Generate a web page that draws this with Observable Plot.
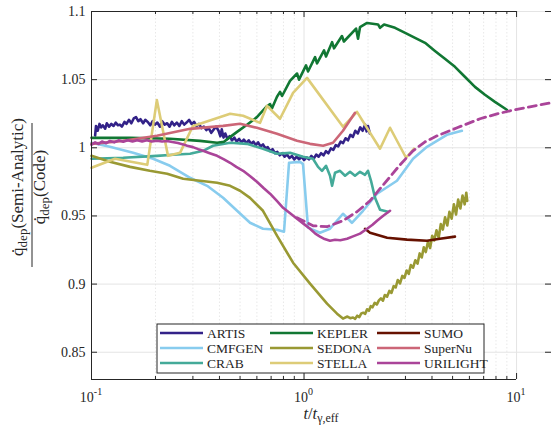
<!DOCTYPE html>
<html><head><meta charset="utf-8">
<script src="https://cdn.jsdelivr.net/npm/d3@7"></script>
<script src="https://cdn.jsdelivr.net/npm/@observablehq/plot@0.6"></script>
<style>body{margin:0;background:#fff;} svg{display:block;}</style>
</head><body><div id="chart"></div>
<script>
const models = ["ARTIS","CMFGEN","CRAB","KEPLER","SEDONA","STELLA","SUMO","SuperNu","URILIGHT"];
const colors = ["#332288","#88CCEE","#44AA99","#117733","#999933","#DDCC77","#661100","#CC6677","#AA4499"];

const artis = [[0.104,1.009],[0.105,1.016],[0.107,1.0125],[0.109,1.0175],[0.111,1.015],[0.113,1.0165],[0.116,1.014],[0.118,1.018],[0.121,1.0155],[0.124,1.0175],[0.127,1.016],[0.130,1.0185],[0.133,1.0165],[0.136,1.017],[0.139,1.0155],[0.143,1.019],[0.146,1.0175],[0.150,1.0205],[0.154,1.018],[0.158,1.0215],[0.162,1.0225],[0.166,1.0195],[0.170,1.021],[0.175,1.018],[0.179,1.0205],[0.184,1.019],[0.189,1.0165],[0.194,1.0195],[0.199,1.017],[0.204,1.0185],[0.210,1.0155],[0.215,1.0195],[0.221,1.017],[0.227,1.018],[0.233,1.0155],[0.239,1.019],[0.245,1.0165],[0.252,1.0185],[0.259,1.016],[0.266,1.0195],[0.273,1.017],[0.280,1.0185],[0.288,1.0205],[0.296,1.0175],[0.304,1.019],[0.312,1.016],[0.320,1.0175],[0.329,1.0145],[0.338,1.0155],[0.347,1.013],[0.356,1.0145],[0.366,1.011],[0.376,1.0135],[0.386,1.0155],[0.396,1.0125],[0.404,1.0085],[0.410,1.0135],[0.418,1.0075],[0.426,1.0105],[0.436,1.0065],[0.447,1.0085],[0.458,1.0055],[0.470,1.0075],[0.482,1.0045],[0.495,1.0065],[0.508,1.0040],[0.521,1.0060],[0.535,1.0035],[0.549,1.0055],[0.563,1.0030],[0.578,1.0045],[0.593,1.0020],[0.608,1.0040],[0.624,1.0010],[0.641,1.0025],[0.658,0.9995],[0.675,1.0005],[0.693,0.9975],[0.711,0.9990],[0.730,0.9960],[0.749,0.9970],[0.769,0.9945],[0.789,0.9960],[0.810,0.9935],[0.832,0.9950],[0.854,0.9925],[0.877,0.9940],[0.900,0.9915],[0.924,0.9935],[0.948,0.9915],[0.974,0.9935],[1.000,0.9910],[1.027,0.9930],[1.054,0.9915],[1.082,0.9940],[1.111,0.9920],[1.141,0.9950],[1.171,0.9935],[1.203,0.9960],[1.235,0.9945],[1.268,0.9975],[1.302,0.9960],[1.337,0.9995],[1.373,0.9985],[1.410,1.0020],[1.448,1.0010],[1.487,1.0045],[1.527,1.0035],[1.568,1.0070],[1.610,1.0055],[1.653,1.0095],[1.698,1.0080],[1.743,1.0125],[1.790,1.0105],[1.838,1.0150],[1.887,1.0125],[1.938,1.0170],[1.970,1.0120],[2.000,1.0160],[2.040,1.0105]];
const cmfgen = [[0.100,1.0037],[0.122,1.0007],[0.157,0.9963],[0.195,0.992],[0.234,0.9868],[0.291,0.978],[0.350,0.9721],[0.416,0.9633],[0.484,0.9538],[0.557,0.945],[0.641,0.9406],[0.746,0.9399],[0.805,0.9384],[0.850,0.989],[0.957,0.9897],[0.989,0.988],[1.044,0.9414],[1.189,0.9377],[1.325,0.9406],[1.525,0.9516],[1.680,0.945],[1.895,0.9538],[2.206,0.9663],[2.737,0.9758],[3.258,0.992],[3.790,1.0007],[4.700,1.0095],[5.530,1.0125]];
const crab = [[0.100,0.992],[0.141,0.9927],[0.203,0.9941],[0.242,0.9949],[0.291,0.9956],[0.335,0.9978],[0.373,1.0015],[0.449,1.0037],[0.539,1.0029],[0.641,0.9993],[0.746,0.9956],[0.859,0.9963],[0.989,0.9934],[1.102,0.992],[1.164,0.986],[1.215,0.9831],[1.269,0.9868],[1.325,0.9795],[1.355,0.9721],[1.399,0.9817],[1.477,0.9831],[1.560,0.9795],[1.646,0.9824],[1.737,0.9795],[1.834,0.9824],[1.936,0.9802],[2.000,0.9831],[2.066,0.9758],[2.158,0.9633],[2.278,0.9545],[2.483,0.953]];
const kepler = [[0.100,1.0073],[0.152,1.0073],[0.234,1.0066],[0.324,1.0051],[0.390,1.0037],[0.420,1.0044],[0.450,1.008],[0.484,1.0117],[0.539,1.0169],[0.600,1.0225],[0.669,1.0305],[0.692,1.032],[0.707,1.029],[0.746,1.0375],[0.771,1.041],[0.788,1.038],[0.859,1.0491],[0.927,1.0545],[0.947,1.050],[1.022,1.0605],[1.044,1.056],[1.127,1.0665],[1.151,1.062],[1.242,1.0715],[1.269,1.067],[1.355,1.0775],[1.384,1.073],[1.508,1.082],[1.540,1.078],[1.757,1.0875],[1.795,1.080],[1.834,1.0885],[1.980,1.0916],[2.230,1.0905],[2.278,1.088],[2.380,1.0905],[2.680,1.088],[2.990,1.0843],[3.330,1.0807],[3.710,1.077],[4.130,1.0711],[4.600,1.0653],[5.130,1.0594],[5.710,1.0521],[6.370,1.0447],[7.100,1.0389],[7.910,1.0337],[9.000,1.0279]];
const sedona = [[0.100,0.9941],[0.122,0.9897],[0.152,0.986],[0.188,0.9831],[0.227,0.981],[0.270,0.9773],[0.324,0.9758],[0.390,0.9743],[0.449,0.9721],[0.500,0.9685],[0.557,0.9633],[0.641,0.9538],[0.746,0.9355],[0.888,0.9157],[1.067,0.9003],[1.283,0.8857],[1.430,0.8783],[1.525,0.8747],[1.600,0.8762],[1.650,0.8750],[1.700,0.8755],[1.740,0.8745],[1.780,0.8768],[1.820,0.8758],[1.860,0.8785],[1.900,0.8790],[1.940,0.8782],[1.980,0.8815],[2.020,0.8805],[2.060,0.8838],[2.100,0.8830],[2.150,0.8862],[2.200,0.8850],[2.250,0.8880],[2.300,0.8895],[2.350,0.8878],[2.400,0.8920],[2.460,0.8908],[2.520,0.8950],[2.580,0.8935],[2.640,0.8985],[2.700,0.8975],[2.760,0.9030],[2.830,0.9005],[2.900,0.9060],[2.970,0.9045],[3.040,0.9100],[3.110,0.9075],[3.180,0.9140],[3.260,0.9120],[3.340,0.9175],[3.420,0.9150],[3.500,0.9225],[3.580,0.9195],[3.660,0.9270],[3.740,0.9235],[3.830,0.9310],[3.920,0.9265],[4.010,0.9355],[4.100,0.9320],[4.200,0.9395],[4.300,0.9340],[4.400,0.9440],[4.500,0.9400],[4.610,0.9490],[4.720,0.9430],[4.830,0.9530],[4.950,0.9480],[5.070,0.9585],[5.190,0.9510],[5.310,0.9620],[5.440,0.9555],[5.570,0.9650],[5.700,0.9585],[5.800,0.9670],[5.860,0.9610]];
const stella = [[0.100,0.9853],[0.129,0.992],[0.183,0.9875],[0.203,1.035],[0.229,0.9941],[0.261,0.9963],[0.300,1.016],[0.324,1.0176],[0.449,1.025],[0.517,1.0235],[0.621,1.0183],[0.670,1.0308],[0.771,1.0213],[0.888,1.0403],[1.033,1.0513],[1.525,1.0154],[1.775,1.0264],[2.278,0.9993],[2.539,1.0147],[3.020,0.9927],[3.290,0.9993]];
const sumo = [[1.936,0.9406],[2.044,0.9377],[2.460,0.934],[3.050,0.9326],[3.790,0.9318],[4.360,0.9333],[5.130,0.9348]];
const supernu = [[0.100,1.0029],[0.141,1.0051],[0.203,1.0088],[0.291,1.0139],[0.416,1.0161],[0.500,1.0176],[0.600,1.0147],[0.746,1.0103],[0.927,1.0051],[1.067,1.0029],[1.230,1.0015],[1.369,1.0037],[1.525,1.0125],[1.737,1.0257]];
const urilight = [[0.100,1.0022],[0.104,1.0040],[0.108,1.0028],[0.112,1.0046],[0.117,1.0033],[0.122,1.0050],[0.128,1.0040],[0.134,1.0055],[0.141,1.0045],[0.148,1.0056],[0.156,1.0046],[0.164,1.0055],[0.173,1.0047],[0.182,1.0055],[0.192,1.0046],[0.203,1.0052],[0.215,1.0046],[0.227,1.0050],[0.240,1.0042],[0.255,1.0035],[0.270,1.0025],[0.282,1.0015],[0.300,1.0005],[0.318,0.9990],[0.335,0.9978],[0.360,0.9960],[0.390,0.9941],[0.420,0.9915],[0.449,0.989],[0.480,0.986],[0.517,0.9831],[0.560,0.9790],[0.600,0.9751],[0.645,0.9705],[0.692,0.9663],[0.745,0.961],[0.797,0.956],[0.860,0.952],[0.927,0.948],[1.000,0.944],[1.067,0.9406],[1.130,0.937],[1.189,0.9348],[1.250,0.933],[1.325,0.9318],[1.400,0.9325],[1.480,0.9322],[1.594,0.9333],[1.700,0.935],[1.834,0.937],[1.980,0.9406],[2.100,0.9435],[2.206,0.9465],[2.350,0.950],[2.539,0.9538]];
const urilightDashed = [[0.927,0.9487],[1.102,0.9428],[1.283,0.9421],[1.525,0.9465],[1.775,0.9531],[2.044,0.9611],[2.278,0.970],[2.539,0.9787],[2.829,0.9875],[3.258,0.9978],[3.710,1.0044],[4.230,1.0088],[5.250,1.0147],[6.730,1.0213],[8.100,1.0249],[9.310,1.0271],[11.56,1.0301],[14.55,1.033]];

const series = [artis, cmfgen, crab, kepler, sedona, stella, sumo, supernu, urilight];
const yTicks = [0.85, 0.9, 0.95, 1, 1.05, 1.1];
const yTickLabels = ["0.85","0.9","0.95","1","1.05","1.1"];
const xMajor = [0.1, 1, 10];
const xMajorExp = ["-1","0","1"];
const xMinor = [0.2,0.3,0.4,0.5,0.6,0.7,0.8,0.9,2,3,4,5,6,7,8,9];

const rows = [];
series.forEach((s, i) => s.forEach(([x, y]) => rows.push({model: models[i], x, y})));
const dashedRows = urilightDashed.map(([x, y]) => ({model: "URILIGHT", x, y}));

const axisColor = "#262626";
const gridColor = "#e4e4e4";
const font = "'Liberation Serif', 'Times New Roman', serif";
const H = 428, W = 552, mT = 11, mB = 49, mL = 91, mR = 1;
const ph = H - mT - mB, pw = W - mL - mR;

const plot = Plot.plot({
  width: W, height: H,
  marginLeft: mL, marginRight: mR, marginTop: mT, marginBottom: mB,
  style: {fontFamily: font, fontSize: "14px", color: axisColor, background: "white"},
  x: {type: "log", domain: [0.1, 14.6], axis: null},
  y: {domain: [0.83, 1.1], axis: null},
  color: {domain: models, range: colors},
  marks: [
    Plot.ruleX(xMinor, {stroke: "#e8e8e8", strokeDasharray: "1.5,2"}),
    Plot.ruleX(xMajor, {stroke: gridColor}),
    Plot.ruleY(yTicks, {stroke: gridColor}),
    Plot.line(rows, {x: "x", y: "y", z: "model", stroke: "model", strokeWidth: 2.6, strokeLinejoin: "round"}),
    Plot.line(dashedRows, {x: "x", y: "y", stroke: "model", strokeWidth: 2.8, strokeDasharray: "8,5", clip: true}),
    Plot.ruleX([0.1], {stroke: axisColor}),
    Plot.ruleY([0.83, 1.1], {x1: 0.1, x2: 10, stroke: axisColor}),
    Plot.tickY(yTicks, {y: d => d, insetRight: pw - 6, stroke: axisColor}),
    Plot.tickY(yTicks, {y: d => d, insetLeft: pw - 6, stroke: axisColor}),
    Plot.tickX(xMajor, {x: d => d, insetTop: ph - 6, stroke: axisColor}),
    Plot.tickX(xMinor, {x: d => d, insetTop: ph - 3, stroke: axisColor}),
    Plot.tickX(xMajor, {x: d => d, insetBottom: ph - 6, stroke: axisColor}),
    Plot.tickX(xMinor, {x: d => d, insetBottom: ph - 3, stroke: axisColor}),
    Plot.axisY(yTicks, {tickSize: 0, tickPadding: 6, label: null, fontSize: 14,
      tickFormat: d => yTickLabels[yTicks.indexOf(d)]})
  ]
});
document.getElementById("chart").appendChild(plot);

const svg = d3.select(plot);
const xs = plot.scale("x");

// x tick labels with superscripts
xMajor.forEach((v, i) => {
  const t = svg.append("text").attr("x", xs.apply(v)).attr("y", 402)
    .attr("text-anchor", "middle").attr("font-family", font).attr("font-size", 14).attr("fill", axisColor);
  t.append("tspan").text("10");
  t.append("tspan").attr("dy", -7).attr("font-size", 10).text(xMajorExp[i]);
});

// x axis title
const xt = svg.append("text").attr("x", 321).attr("y", 419).attr("text-anchor", "middle")
  .attr("font-family", font).attr("font-size", 16.5).attr("fill", axisColor);
xt.append("tspan").attr("font-style", "italic").text("t");
xt.append("tspan").text("/");
xt.append("tspan").attr("font-style", "italic").text("t");
xt.append("tspan").attr("dy", 3).attr("font-size", 12).text("γ,eff");

// y axis label (fraction)
const g = svg.append("g").attr("transform", "translate(32,195) rotate(-90)")
  .attr("font-family", font).attr("fill", axisColor);
g.append("line").attr("x1", -72).attr("x2", 72).attr("y1", 0).attr("y2", 0).attr("stroke", axisColor).attr("stroke-width", 1);
const num = g.append("text").attr("x", 8).attr("y", -9).attr("text-anchor", "middle").attr("font-size", 17);
num.append("tspan").text("q\u0307");
num.append("tspan").attr("dy", 4).attr("font-size", 13).text("dep");
num.append("tspan").attr("dy", -4).text("(Semi-Analytic)");
const den = g.append("text").attr("x", 8).attr("y", 13).attr("text-anchor", "middle").attr("font-size", 17);
den.append("tspan").text("q\u0307");
den.append("tspan").attr("dy", 4).attr("font-size", 13).text("dep");
den.append("tspan").attr("dy", -4).text("(Code)");

// legend
const lg = svg.append("g").attr("font-family", font).attr("font-size", 13.5);
lg.append("rect").attr("x", 157).attr("y", 324).attr("width", 327).attr("height", 49)
  .attr("fill", "white").attr("stroke", axisColor).attr("stroke-width", 1);
const colX = [160, 270, 377];
const rowY = [333, 348, 363];
models.forEach((m, i) => {
  const c = Math.floor(i / 3), r = i % 3;
  lg.append("line").attr("x1", colX[c]).attr("x2", colX[c] + 43).attr("y1", rowY[r]).attr("y2", rowY[r])
    .attr("stroke", colors[i]).attr("stroke-width", 2.6);
  lg.append("text").attr("x", colX[c] + 47).attr("y", rowY[r] + 4.5).attr("text-anchor", "start")
    .attr("fill", axisColor).text(m);
});
</script>
</body></html>
